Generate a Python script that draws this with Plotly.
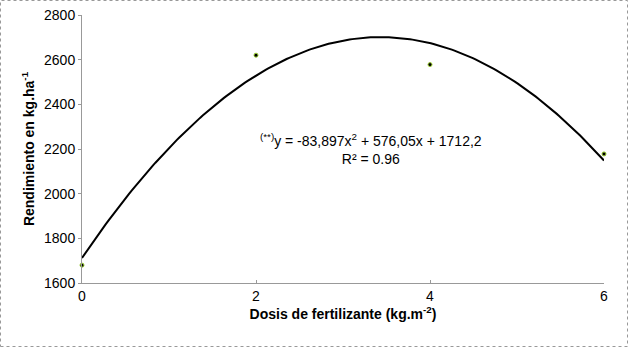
import numpy as np
import plotly.graph_objects as go

dose = [0, 2, 4, 6]
yield_kg = [1680, 2620, 2578, 2178]
coef = [-83.897, 576.05, 1712.2]  # trendline coefficients shown on the chart
x_ticks = [0, 2, 4, 6]
y_ticks = [1600, 1800, 2000, 2200, 2400, 2600, 2800]

xs = np.linspace(0, 6, 200)
ys = np.polyval(coef, xs)

W, H = 628, 347
L, R, T, B = 82, 24, 15, 64
pw, ph = W - L - R, H - T - B

fig = go.Figure()
fig.add_trace(go.Scatter(x=xs, y=ys, mode="lines", line=dict(color="black", width=2), showlegend=False, hoverinfo="skip"))
fig.add_trace(go.Scatter(x=dose, y=yield_kg, mode="markers",
                         marker=dict(color="black", size=4, line=dict(color="#9acd32", width=1)), showlegend=False, cliponaxis=False))

def px2paper_x(px):
    return (px - L) / pw

def px2paper_y(py):
    return (H - B - py) / ph

fig.add_shape(type="rect", xref="paper", yref="paper",
              x0=px2paper_x(0.5), x1=px2paper_x(627.5), y0=px2paper_y(346.5), y1=px2paper_y(0.5),
              line=dict(color="#999999", width=1, dash="dot"), layer="below")

fig.add_annotation(x=3.32, y=2200, xref="x", yref="y", showarrow=False,
                   text="<sup>(**)</sup>y = -83,897x<sup>2</sup> + 576,05x + 1712,2<br>R² = 0.96",
                   font=dict(family="Liberation Sans, Arial", size=14, color="black"), align="center")

fig.update_layout(
    width=W, height=H, margin=dict(l=L, r=R, t=T, b=B, autoexpand=False),
    plot_bgcolor="white", paper_bgcolor="white",
    font=dict(family="Liberation Sans, Arial", color="black"),
    xaxis=dict(range=[0, 6], tickvals=x_ticks, showgrid=False, zeroline=False, automargin=False,
               showline=True, linecolor="#999999", linewidth=1, ticks="inside", ticklen=3, tickcolor="#999999",
               tickfont=dict(size=14), title=dict(text="<b>Dosis de fertilizante (kg.m<sup>-2</sup>)</b>", font=dict(size=14), standoff=6)),
    yaxis=dict(range=[1600, 2800], tickvals=y_ticks, showgrid=False, zeroline=False, automargin=False,
               showline=True, linecolor="#999999", linewidth=1, ticks="outside", ticklen=3, tickcolor="#999999",
               tickfont=dict(size=14), title=dict(text="<b>Rendimiento en kg.ha<sup>-1</sup></b>", font=dict(size=14), standoff=6)),
)

fig.write_html("out.html", config={"displayModeBar": False},
               post_script="document.body.style.margin='0';document.body.style.overflow='hidden';")
